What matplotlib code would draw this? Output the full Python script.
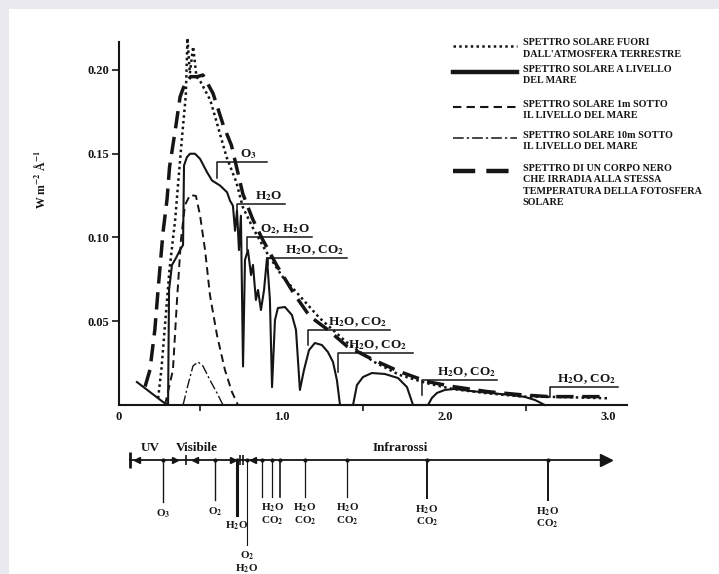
import matplotlib
matplotlib.use("Agg")
import matplotlib.pyplot as plt
from matplotlib.patches import Rectangle

plt.rcParams['font.family'] = ['Liberation Serif', 'DejaVu Serif']
plt.rcParams['font.weight'] = 'bold'
plt.rcParams['mathtext.fontset'] = 'stix'
plt.rcParams['mathtext.default'] = 'bf'

# --- data (wavelength in micron, irradiance in W m-2 A-1) ---
bb_wl = [0.16, 0.19, 0.22, 0.24, 0.27, 0.295, 0.31, 0.345, 0.375, 0.405, 0.44, 0.48, 0.515,
         0.577, 0.64, 0.69, 0.76, 0.82, 0.88, 0.97, 1.07, 1.17, 1.28, 1.40, 1.56, 1.72, 1.89,
         2.05, 2.26, 2.48, 2.64, 3.0]
bb_val = [0.011, 0.021, 0.045, 0.069, 0.103, 0.123, 0.142, 0.164, 0.184, 0.192, 0.196, 0.196, 0.197,
          0.186, 0.167, 0.155, 0.126, 0.111, 0.099, 0.083, 0.067, 0.053, 0.045, 0.035, 0.027, 0.020, 0.014,
          0.011, 0.008, 0.006, 0.005, 0.005]

et_wl = [0.24, 0.26, 0.28, 0.31, 0.345, 0.36, 0.385, 0.41, 0.42, 0.435, 0.455, 0.475, 0.50, 0.56,
         0.59, 0.66, 0.72, 0.76, 0.82, 0.90, 1.0, 1.11, 1.23, 1.39, 1.56, 1.72, 1.89, 2.05, 2.26,
         2.48, 2.7, 3.0]
et_val = [0.004, 0.021, 0.045, 0.081, 0.111, 0.129, 0.158, 0.185, 0.219, 0.198, 0.214, 0.196, 0.193, 0.182,
          0.172, 0.148, 0.133, 0.118, 0.106, 0.092, 0.077, 0.065, 0.052, 0.038, 0.026, 0.018, 0.013, 0.0095, 0.007,
          0.005, 0.0048, 0.004]

sl_wl = [0.110, 0.270, 0.301, 0.307, 0.325, 0.350, 0.374, 0.393, 0.399, 0.417, 0.436, 0.466, 0.497,
         0.540, 0.571, 0.620, 0.663, 0.681, 0.699, 0.712, 0.724, 0.736, 0.748, 0.761, 0.773, 0.791,
         0.810, 0.822, 0.840, 0.853, 0.871, 0.890, 0.908, 0.926, 0.939, 0.957, 0.975, 1.018, 1.061,
         1.086, 1.110, 1.135, 1.166, 1.202, 1.245, 1.282, 1.313, 1.337, 1.356, 1.436, 1.460, 1.497,
         1.552, 1.632, 1.712, 1.767, 1.804, 1.896, 1.920, 1.951, 2.0, 2.061, 2.153, 2.276, 2.399,
         2.491, 2.552, 2.613]
sl_val = [0.0137, 0.0018, 0.0, 0.0687, 0.0836, 0.0878, 0.0925, 0.0955, 0.143, 0.148, 0.150, 0.150, 0.147,
          0.139, 0.134, 0.131, 0.127, 0.122, 0.119, 0.104, 0.116, 0.0925, 0.113, 0.023, 0.0866, 0.0925,
          0.0776, 0.0836, 0.0627, 0.0687, 0.0567, 0.0687, 0.0878, 0.0627, 0.0107, 0.0507, 0.0579, 0.0585, 0.0537,
          0.0448, 0.009, 0.0209, 0.0328, 0.037, 0.0358, 0.0316, 0.0257, 0.0149, 0.0, 0.0, 0.0119, 0.0167,
          0.0191, 0.0185, 0.0161, 0.0107, 0.0, 0.0, 0.0042, 0.0072, 0.009, 0.0096, 0.0084, 0.0072, 0.006,
          0.0048, 0.003, 0.0]

m1_wl = [0.282, 0.331, 0.356, 0.380, 0.405, 0.436, 0.472, 0.497, 0.528, 0.558, 0.601, 0.650, 0.693, 0.730]
m1_val = [0.0, 0.0209, 0.0627, 0.0985, 0.1194, 0.1254, 0.1248, 0.1134, 0.0925, 0.0657, 0.0418, 0.0209, 0.0078, 0.0]

m10_wl = [0.393, 0.423, 0.454, 0.485, 0.515, 0.558, 0.601, 0.638]
m10_val = [0.0, 0.0119, 0.0233, 0.0257, 0.0233, 0.0149, 0.0072, 0.0]

# absorber brackets on the spectrum
abs_wl = [0.601, 0.724, 0.785, 0.914, 1.16, 1.344, 1.859, 2.644]
abs_lo = [0.1355, 0.1134, 0.0925, 0.0836, 0.0358, 0.0197, 0.006, 0.0048]
abs_hi = [0.1451, 0.120, 0.1003, 0.0878, 0.0448, 0.031, 0.0149, 0.0107]
abs_end = [0.908, 1.018, 1.184, 1.399, 1.663, 1.804, 2.319, 3.061]
abs_txt_x = [0.742, 0.834, 0.865, 1.018, 1.282, 1.405, 1.951, 2.687]
abs_txt = ["O$_3$", "H$_2$O", "O$_2$, H$_2$O", "H$_2$O, CO$_2$", "H$_2$O, CO$_2$",
           "H$_2$O, CO$_2$", "H$_2$O, CO$_2$", "H$_2$O, CO$_2$"]

# absorption bands on the lower wavelength strip
band_wl = [0.27, 0.589, 0.724, 0.785, 0.88, 0.94, 0.99, 1.14, 1.40, 1.89, 2.63]
band_len = [42, 40, 55, 85, 37, 37, 37, 37, 37, 38, 40]
band_lw = [1.0, 1.0, 2.2, 0.8, 0.9, 0.9, 1.2, 0.9, 0.9, 1.4, 1.4]
band_lbl = ["O$_3$", "O$_2$", "H$_2$O", "O$_2$\nH$_2$O", "", "H$_2$O\nCO$_2$", "",
            "H$_2$O\nCO$_2$", "H$_2$O\nCO$_2$", "H$_2$O\nCO$_2$", "H$_2$O\nCO$_2$"]
region_x = [0.19, 0.48, 1.724]
region_lbl = ["UV", "Visibile", "Infrarossi"]

legend_txt = ["SPETTRO SOLARE FUORI\nDALL'ATMOSFERA TERRESTRE",
              "SPETTRO SOLARE A LIVELLO\nDEL MARE",
              "SPETTRO SOLARE 1m SOTTO\nIL LIVELLO DEL MARE",
              "SPETTRO SOLARE 10m SOTTO\nIL LIVELLO DEL MARE",
              "SPETTRO DI UN CORPO NERO\nCHE IRRADIA ALLA STESSA\nTEMPERATURA DELLA FOTOSFERA\nSOLARE"]

ink = '#151515'
styles = [dict(ls=(0, (1, 1.3)), lw=1.8),
          dict(ls='-', lw=1.5),
          dict(ls=(0, (4, 2.5)), lw=1.4),
          dict(ls=(0, (7, 2, 1.5, 2)), lw=1.0),
          dict(ls=(0, (5, 2.5)), lw=2.5)]
legend_lw = [1.8, 3.2, 1.5, 1.1, 3.2]

fig = plt.figure(figsize=(7.19, 5.74), dpi=100, facecolor='#e9e9ef')
fig.patches.append(Rectangle((9 / 719, 0), 1, 565 / 574, transform=fig.transFigure,
                             facecolor='white', edgecolor='none', zorder=-10))

ax = fig.add_axes([119 / 719, 169 / 574, 508 / 719, 363 / 574])
ax.patch.set_alpha(0)
series = [(et_wl, et_val), (sl_wl, sl_val), (m1_wl, m1_val), (m10_wl, m10_val), (bb_wl, bb_val)]
for (xs, ys), st in zip(series, styles):
    ax.plot(xs, ys, color=ink, clip_on=False, **st)

for i in range(len(abs_wl)):
    ax.plot([abs_wl[i], abs_wl[i], abs_end[i]], [abs_lo[i], abs_hi[i], abs_hi[i]],
            color=ink, lw=1.1)
    ax.text(abs_txt_x[i], abs_hi[i] + 0.0008, abs_txt[i], fontsize=9.5, ha='left', va='bottom', color=ink)

ax.set_xlim(0, 3.117)
ax.set_ylim(0, 0.2167)
for s in ['top', 'right']:
    ax.spines[s].set_visible(False)
for s in ['left', 'bottom']:
    ax.spines[s].set_linewidth(1.5)
    ax.spines[s].set_color(ink)
ax.set_yticks([0.05, 0.10, 0.15, 0.20])
ax.set_yticklabels(["0.05", "0.10", "0.15", "0.20"])
ax.set_xticks([0, 1, 2, 3])
ax.set_xticklabels(["0", "1.0", "2.0", "3.0"])
ax.set_xticks([0.5, 1.5, 2.5], minor=True)
ax.tick_params(axis='y', length=5, width=1.2, labelsize=9, pad=2, colors=ink)
ax.tick_params(axis='x', which='major', length=0, labelsize=9, pad=4, colors=ink)
ax.tick_params(axis='x', which='minor', length=4, width=1.2, colors=ink)
fig.text(41 / 719, 1 - 180 / 574, "W m$^{-2}$ Å$^{-1}$", rotation=90, fontsize=8.5,
         ha='center', va='center', color=ink)

# legend drawn by hand: handle sits on the first text line
leg_y = [0.99, 0.917, 0.821, 0.735, 0.645]
for i in range(5):
    st = dict(styles[i])
    st['lw'] = legend_lw[i]
    ax.plot([0.657, 0.783], [leg_y[i], leg_y[i]], transform=ax.transAxes, color=ink,
            clip_on=False, **st)
    ax.text(0.795, leg_y[i] + 0.02, legend_txt[i], transform=ax.transAxes, fontsize=7.3,
            ha='left', va='top', linespacing=1.35, color=ink)

# lower wavelength strip
ax2 = fig.add_axes([119 / 719, 0, 508 / 719, 144 / 574])
ax2.set_xlim(0, 3.117)
ax2.set_ylim(-114, 30)
ax2.axis('off')
ax2.plot([0.067, 2.97], [0, 0], color=ink, lw=1.3)
ax2.plot([2.99], [0], marker='>', ms=8, color=ink)
ax2.plot([0.067], [0], marker='|', ms=12, mew=2, color=ink)
for xm, mk in [(0.11, '<'), (0.345, '>'), (0.465, '<'), (0.70, '>'), (0.82, '<')]:
    ax2.plot([xm], [0], marker=mk, ms=4.5, color=ink)
for xm in [0.41, 0.74, 0.76]:
    ax2.plot([xm], [0], marker='|', ms=7, mew=1.2, color=ink)

for i in range(len(band_wl)):
    ax2.plot([band_wl[i], band_wl[i]], [0, -band_len[i]], color=ink, lw=band_lw[i])
    ax2.plot([band_wl[i]], [0], marker='o', ms=2, color=ink)
    if band_lbl[i]:
        ax2.text(band_wl[i], -band_len[i] - 5, band_lbl[i], fontsize=8, ha='center', va='top',
                 linespacing=1.0, color=ink)
for xr, lb in zip(region_x, region_lbl):
    ax2.text(xr, 6, lb, fontsize=9.5, ha='center', va='bottom', color=ink)

fig.savefig("out.png", dpi=100, facecolor=fig.get_facecolor())
